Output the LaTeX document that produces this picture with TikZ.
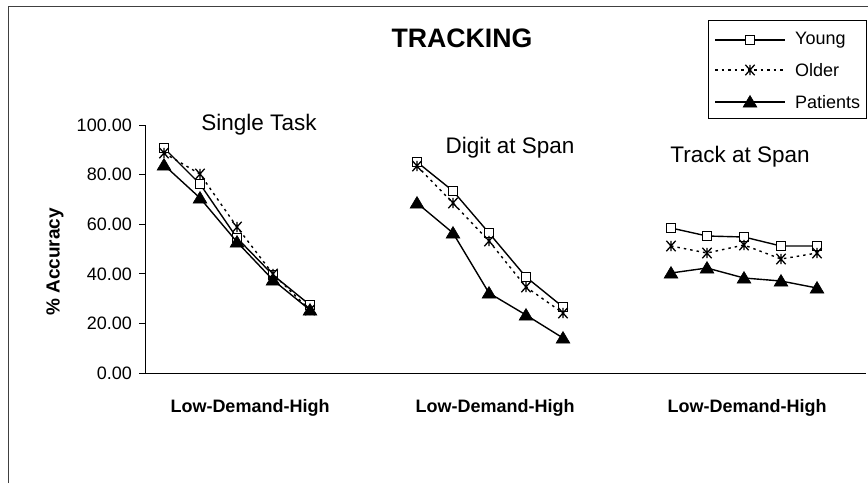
\documentclass[tikz,border=0pt]{standalone}
\usepackage{fontspec}
\setmainfont{Liberation Sans}

% plot marks for the three groups
\pgfdeclareplotmark{youngmark}{%
  \pgfpathrectangle{\pgfpoint{-4.6pt}{-4.6pt}}{\pgfpoint{9.2pt}{9.2pt}}%
  \pgfusepathqfillstroke}
\pgfdeclareplotmark{oldermark}{%
  \pgfpathmoveto{\pgfpoint{-4.6pt}{-5.2pt}}\pgfpathlineto{\pgfpoint{4.6pt}{5.2pt}}%
  \pgfpathmoveto{\pgfpoint{-4.6pt}{5.2pt}}\pgfpathlineto{\pgfpoint{4.6pt}{-5.2pt}}%
  \pgfpathmoveto{\pgfpoint{0pt}{-5.2pt}}\pgfpathlineto{\pgfpoint{0pt}{5.2pt}}%
  \pgfusepathqstroke}
\pgfdeclareplotmark{patientmark}{%
  \pgfpathmoveto{\pgfpoint{0pt}{6.5pt}}%
  \pgfpathlineto{\pgfpoint{-6.8pt}{-5pt}}%
  \pgfpathlineto{\pgfpoint{6.8pt}{-5pt}}%
  \pgfpathclose\pgfusepathqfillstroke}

\begin{document}
\begin{tikzpicture}[x=1pt,y=-1pt,
  frameline/.style={line width=1pt, black!75},
  axisline/.style={line width=1pt},
  youngline/.style={line width=1.4pt, mark=youngmark,
    mark options={solid, fill=white, line width=1.2pt}},
  olderline/.style={line width=1.4pt, dash pattern=on 2.5pt off 4pt, mark=oldermark,
    mark options={solid, line width=1.3pt}},
  patientline/.style={line width=1.4pt, mark=patientmark,
    mark options={solid, fill=black, line width=0.6pt}},
  ticklabel/.style={anchor=east, inner sep=0pt, font=\fontsize{18}{20}\selectfont},
  catlabel/.style={inner sep=0pt, font=\fontsize{18}{20}\selectfont\bfseries},
  grouptitle/.style={inner sep=0pt, font=\fontsize{22.5}{26}\selectfont},
  legendtext/.style={anchor=west, inner sep=0pt, font=\fontsize{18}{20}\selectfont}]

\useasboundingbox (0,0) rectangle (868,483);

% outer frame
\draw[frameline] (8,483) -- (8,6) -- (868,6);

% title
\node[inner sep=0pt, font=\fontsize{26.7}{30}\selectfont\bfseries] (title) at (462,38) {TRACKING};

% axes
\draw[axisline] (145,125) -- (145,373) -- (866,373);
\foreach \v/\lab in {0/0.00,20/20.00,40/40.00,60/60.00,80/80.00,100/100.00}{
  \draw[axisline] (139,{373-2.48*\v}) -- (145,{373-2.48*\v});
  \node[ticklabel] at (132,{373-2.48*\v}) {\lab};
}
\node[rotate=90, inner sep=0pt, font=\fontsize{19}{22}\selectfont\bfseries] (ylab) at (55,262) {\% Accuracy};

% category labels
\node[catlabel] (c1) at (250,408) {Low-Demand-High};
\node[catlabel] (c2) at (495,408) {Low-Demand-High};
\node[catlabel] (c3) at (747,408) {Low-Demand-High};

% group titles
\node[grouptitle] (g1) at (259,125) {Single Task};
\node[grouptitle] (g2) at (510,148) {Digit at Span};
\node[grouptitle] (g3) at (740,157) {Track at Span};

% Single Task
\draw[youngline] plot coordinates {(164,148) (200,184) (237,238) (273,275) (310,305)};
\draw[olderline] plot coordinates {(164,153) (200,174) (237,227) (273,274) (310,310)};
\draw[patientline] plot coordinates {(164,165) (200,198) (237,242) (273,280) (310,310)};

% Digit at Span
\draw[youngline] plot coordinates {(417,162) (453,191) (489,233) (526,277) (563,307)};
\draw[olderline] plot coordinates {(417,166) (453,203) (489,241) (526,287) (563,313)};
\draw[patientline] plot coordinates {(417,203) (453,233) (489,293) (526,315) (563,338)};

% Track at Span
\draw[youngline] plot coordinates {(671,228) (707,236) (744,237) (781,246) (817,246)};
\draw[olderline] plot coordinates {(671,246) (707,253) (744,245) (781,259) (817,253)};
\draw[patientline] plot coordinates {(671,273) (707,268) (744,278) (781,281) (817,288)};

% legend
\draw[line width=0.9pt] (708,20) rectangle (866,118);
\draw[youngline, mark indices={2}] plot coordinates {(715,40) (750,40) (785,40)};
\draw[olderline, mark indices={2}] plot coordinates {(715,70) (750,70) (785,70)};
\draw[patientline, mark indices={2}] plot coordinates {(715,102) (750,102) (785,102)};
\node[legendtext] (l1) at (795,40) {Young};
\node[legendtext] (l2) at (795,70) {Older};
\node[legendtext] (l3) at (795,102) {Patients};

\end{tikzpicture}
\end{document}
